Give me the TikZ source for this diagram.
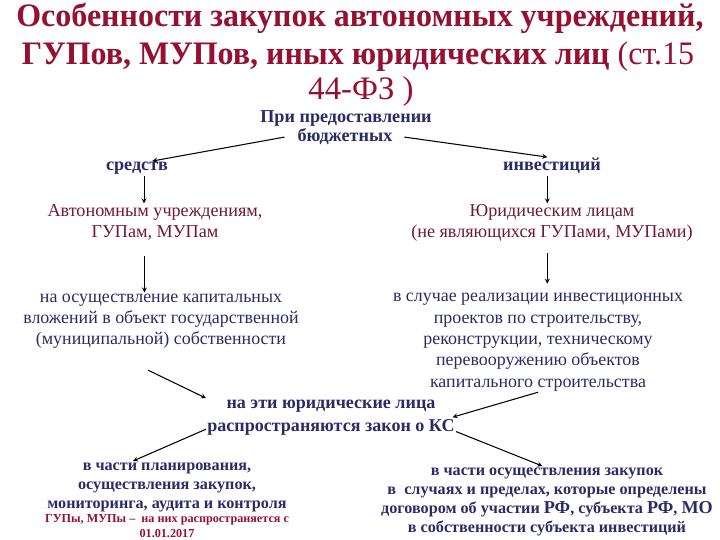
\documentclass[tikz,border=0pt]{standalone}
\usepackage{fontspec}
\usepackage{graphicx}
\setmainfont{Liberation Serif}
\usetikzlibrary{arrows}
\definecolor{titlered}{RGB}{150,16,52}
\definecolor{inkblue}{RGB}{42,42,102}
\definecolor{wine}{RGB}{112,24,58}
\newcommand{\bigpart}[1]{{\fontsize{15.5}{16.2}\selectfont #1}}

\begin{document}
\begin{tikzpicture}[x=0.03cm, y=-0.03cm,
    head/.style={text=titlered, inner sep=0pt, anchor=base,
      font=\fontsize{28}{34}\selectfont},
    lead/.style={text=inkblue, inner sep=1pt, anchor=base,
      font=\bfseries\fontsize{15.5}{18}\selectfont},
    who/.style={text=wine, align=center, inner sep=1pt, anchor=base,
      font=\fontsize{15.5}{18.1}\selectfont},
    what/.style={text=inkblue, align=center, inner sep=1pt, anchor=base,
      font=\fontsize{15.3}{18.2}\selectfont},
    part/.style={text=inkblue, align=center, inner sep=1pt, anchor=base,
      font=\bfseries\fontsize{13.8}{16.2}\selectfont}]
  \useasboundingbox (0,0) rectangle (720,540);

  % title (the base of a node is the base of its last line)
  \node[head] (t1) at (360,27) {\scalebox{0.975}[1]{\bfseries Особенности закупок автономных учреждений,}};
  \node[head] (t2) at (358,65) {\scalebox{0.975}[1]{\bfseries ГУПов, МУПов, иных юридических лиц \mdseries(ст.15}};
  \node[head] (t3) at (361,100) {44-ФЗ )};

  \node[lead] (pri) at (346,123) {При предоставлении};
  \node[lead] (bud) at (345,142) {бюджетных};
  \node[lead] (sred) at (137,171) {средств};
  \node[lead] (inv) at (552,171) {инвестиций};

  \node[who] (avt) at (155,238) {Автономным учреждениям,\\ГУПам, МУПам};
  \node[who] (jur) at (552,238) {Юридическим лицам\\(не являющихся ГУПами, МУПами)};

  \node[what] (kap) at (161,345) {на осуществление капитальных\\вложений в объект государственной\\(муниципальной) собственности};
  \node[what] (proj) at (538,387) {в случае реализации инвестиционных\\проектов по строительству,\\реконструкции, техническому\\перевооружению объектов\\капитального строительства};

  \node[lead, align=center, font=\bfseries\fontsize{15.4}{19.6}\selectfont] (ks) at (331,431)
    {на эти юридические лица\\распространяются закон о КС};

  \node[part] (plan) at (167,508) {в части планирования,\\осуществления закупок,\\мониторинга, аудита и контроля};
  \node[part, text=titlered, font=\bfseries\fontsize{10.4}{12}\selectfont] (gup) at (167,537)
    {ГУПы, МУПы –\ \ на них распространяется с\\01.01.2017};
  \node[part] (dog) at (547,532)
    {в части осуществления закупок\\в\ \ случаях и пределах, которые определены\\договором об участии \bigpart{РФ}, субъекта \bigpart{РФ}, \bigpart{МО}\\в собственности субъекта инвестиций};

  % arrows
  \begin{scope}[->, >=stealth, line width=0.9pt]
    \draw ([xshift=-10pt]bud.west) to ([xshift=13pt]sred.north);
    \draw ([xshift=9pt]bud.east) to ([xshift=-4pt]inv.north);
    \draw ([xshift=6pt]sred.south) to ([xshift=6pt]sred.south |- avt.north);
    \draw ([xshift=-4pt]inv.south) to ([xshift=-4pt]inv.south |- jur.north);
    \draw [shorten <=12pt] ([xshift=-9pt]avt.south) to ([xshift=-9pt]avt.south |- kap.north);
    \draw [shorten <=8pt, shorten >=7pt] ([xshift=-4pt]jur.south) to ([xshift=-4pt]jur.south |- proj.north);
    \draw ([xshift=-11pt, yshift=-17pt]kap.south) to (ks.north west);
    \draw (proj.south) to ([xshift=-3pt]ks.east);
    \draw ([yshift=6pt]ks.south west) to ([xshift=-29pt]plan.north);
    \draw ([yshift=4pt]ks.south east) to ([xshift=-4pt]dog.north);
  \end{scope}
\end{tikzpicture}
\end{document}
